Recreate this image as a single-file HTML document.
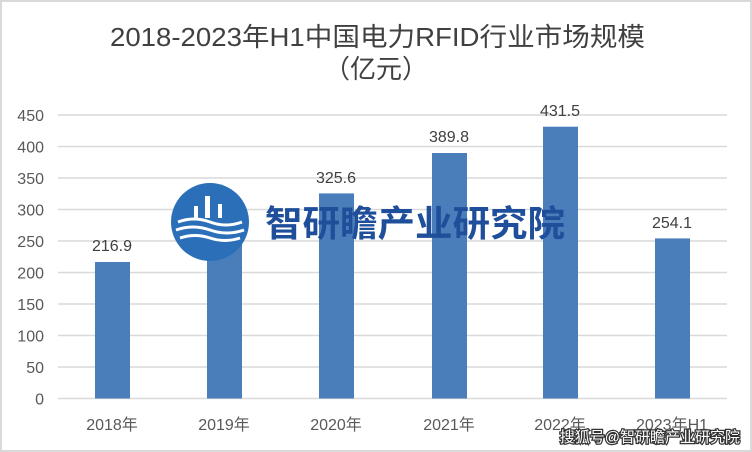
<!DOCTYPE html>
<html><head><meta charset="utf-8"><style>
html,body{margin:0;padding:0;background:#fff}
svg{display:block}
text{font-family:"Liberation Sans","Noto Sans CJK SC",sans-serif}
</style></head><body>
<svg width="752" height="452" viewBox="0 0 752 452" xmlns="http://www.w3.org/2000/svg">
<rect x="1" y="1" width="750" height="450" fill="#fff" stroke="#d9d9d9" stroke-width="2"/>
<text x="110" y="46" font-size="26" fill="#404040" textLength="535" lengthAdjust="spacingAndGlyphs">2018-2023年H1中国电力RFID行业市场规模</text>
<text x="376" y="78" text-anchor="middle" font-size="26" fill="#404040">（亿元）</text>
<g stroke="#d9d9d9" stroke-width="1.5">
<line x1="58" x2="727" y1="115" y2="115"/>
<line x1="58" x2="727" y1="146.5" y2="146.5"/>
<line x1="58" x2="727" y1="178" y2="178"/>
<line x1="58" x2="727" y1="209.5" y2="209.5"/>
<line x1="58" x2="727" y1="241" y2="241"/>
<line x1="58" x2="727" y1="272.5" y2="272.5"/>
<line x1="58" x2="727" y1="304" y2="304"/>
<line x1="58" x2="727" y1="335.5" y2="335.5"/>
<line x1="58" x2="727" y1="367" y2="367"/>
<line x1="58" x2="727" y1="398.5" y2="398.5"/>
</g>
<g font-size="16" fill="#595959" text-anchor="end">
<text x="44" y="121">450</text><text x="44" y="152.5">400</text><text x="44" y="184">350</text>
<text x="44" y="215.5">300</text><text x="44" y="247">250</text><text x="44" y="278.5">200</text>
<text x="44" y="310">150</text><text x="44" y="341.5">100</text><text x="44" y="373">50</text>
<text x="44" y="404.5">0</text>
</g>
<g fill="#4a7ebb">
<rect x="95" y="262" width="35" height="136.5"/>
<rect x="207" y="243" width="35" height="155.5"/>
<rect x="319" y="193.4" width="35" height="205.1"/>
<rect x="432" y="153" width="35" height="245.5"/>
<rect x="543" y="126.7" width="35" height="271.8"/>
<rect x="655" y="238.4" width="35" height="160.1"/>
</g>
<g font-size="16" fill="#404040" text-anchor="middle">
<text x="112" y="251">216.9</text>
<text x="336" y="183">325.6</text>
<text x="449" y="142">389.8</text>
<text x="560" y="116">431.5</text>
<text x="672" y="228">254.1</text>
</g>
<g font-size="16" fill="#595959" text-anchor="middle">
<text x="112" y="430">2018年</text><text x="224" y="430">2019年</text><text x="336" y="430">2020年</text>
<text x="449" y="430">2021年</text><text x="560" y="430">2022年</text><text x="672" y="430">2023年H1</text>
</g>
<circle cx="210" cy="222" r="39" fill="#2a6fb8"/>
<g stroke="#fff" stroke-width="3" fill="none">
<path d="M178 222 q16 -6 32 0 q16 6 32 0"/>
<path d="M176 230 q17 -6 34 0 q17 6 34 0"/>
<path d="M180 238 q15 -5 30 0 q15 5 30 0"/>
</g>
<g fill="#fff"><rect x="205" y="196" width="5" height="22"/><rect x="194" y="206" width="4" height="12"/><rect x="218" y="204" width="4" height="14"/></g>
<text x="265" y="236" font-size="36" font-weight="bold" fill="#1f4f9a" textLength="300" lengthAdjust="spacingAndGlyphs">智研瞻产业研究院</text>
<text x="740" y="442" text-anchor="end" font-size="15" fill="#fff" stroke="#333" stroke-width="2.5" paint-order="stroke">搜狐号@智研瞻产业研究院</text>
</svg>
</body></html>
